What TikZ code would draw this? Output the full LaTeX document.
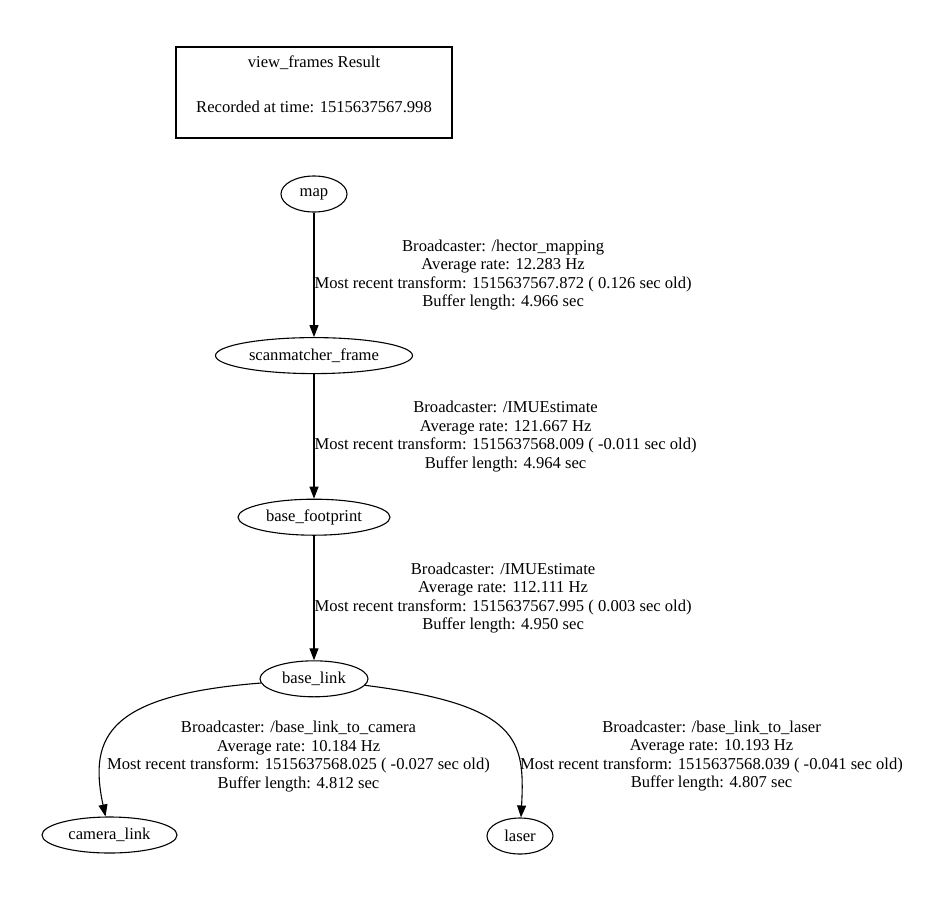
\documentclass[tikz,border=0pt]{standalone}
\usepackage{fontspec}
\setmainfont{Liberation Serif}
\usetikzlibrary{arrows.meta,positioning,shapes.geometric}

\begin{document}
\begin{tikzpicture}[
    x=1pt, y=-1pt,
    font=\fontsize{16.6}{18.5}\selectfont,
    node distance=124.5pt,
    tfnode/.style={ellipse, draw, line width=1.1pt, minimum height=36pt, inner sep=0pt},
    resultbox/.style={rectangle, draw, line width=2.4pt, minimum width=276pt, minimum height=91pt},
    info/.style={align=center, inner sep=0pt},
    arrow/.style={-{Triangle[length=12pt, width=9pt]}, line width=1.1pt}
]
\useasboundingbox (0,0) rectangle (942,900);

% header box
\node[resultbox] (result) at (314,92.5) {};
\node[info] (stamp) at (314,84.5) {view\_frames Result\\[26.5pt]Recorded at time: 1515637567.998};

% frames
\node[tfnode, minimum width=66pt] (map) at (314,194) {map};
\node[tfnode, minimum width=197pt, below=of map] (scan) {scanmatcher\_frame};
\node[tfnode, minimum width=152pt, below=of scan] (foot) {base\_footprint};
\node[tfnode, minimum width=108pt, below=of foot] (link) {base\_link};
\node[tfnode, minimum width=135pt] (camera) at (109.5,835) {camera\_link};
\node[tfnode, minimum width=66pt] (laser) at (520,836) {laser};

% transforms
\draw[arrow] (map) -- node[info, right] {Broadcaster: /hector\_mapping\\Average rate: 12.283 Hz\\Most recent transform: 1515637567.872 ( 0.126 sec old)\\Buffer length: 4.966 sec} (scan);
\draw[arrow] (scan) -- node[info, right] {Broadcaster: /IMUEstimate\\Average rate: 121.667 Hz\\Most recent transform: 1515637568.009 ( -0.011 sec old)\\Buffer length: 4.964 sec} (foot);
\draw[arrow] (foot) -- node[info, right] {Broadcaster: /IMUEstimate\\Average rate: 112.111 Hz\\Most recent transform: 1515637567.995 ( 0.003 sec old)\\Buffer length: 4.950 sec} (link);
\draw[arrow] (link) .. controls (110,695) and (88,735) .. (camera);
\draw[arrow] (link) .. controls (520,705) and (525,740) .. (laser);

\node[info] (camlabel) at (298.5,756.5) {Broadcaster: /base\_link\_to\_camera\\Average rate: 10.184 Hz\\Most recent transform: 1515637568.025 ( -0.027 sec old)\\Buffer length: 4.812 sec};
\node[info] (laslabel) at (711.5,756) {Broadcaster: /base\_link\_to\_laser\\Average rate: 10.193 Hz\\Most recent transform: 1515637568.039 ( -0.041 sec old)\\Buffer length: 4.807 sec};
\end{tikzpicture}
\end{document}
